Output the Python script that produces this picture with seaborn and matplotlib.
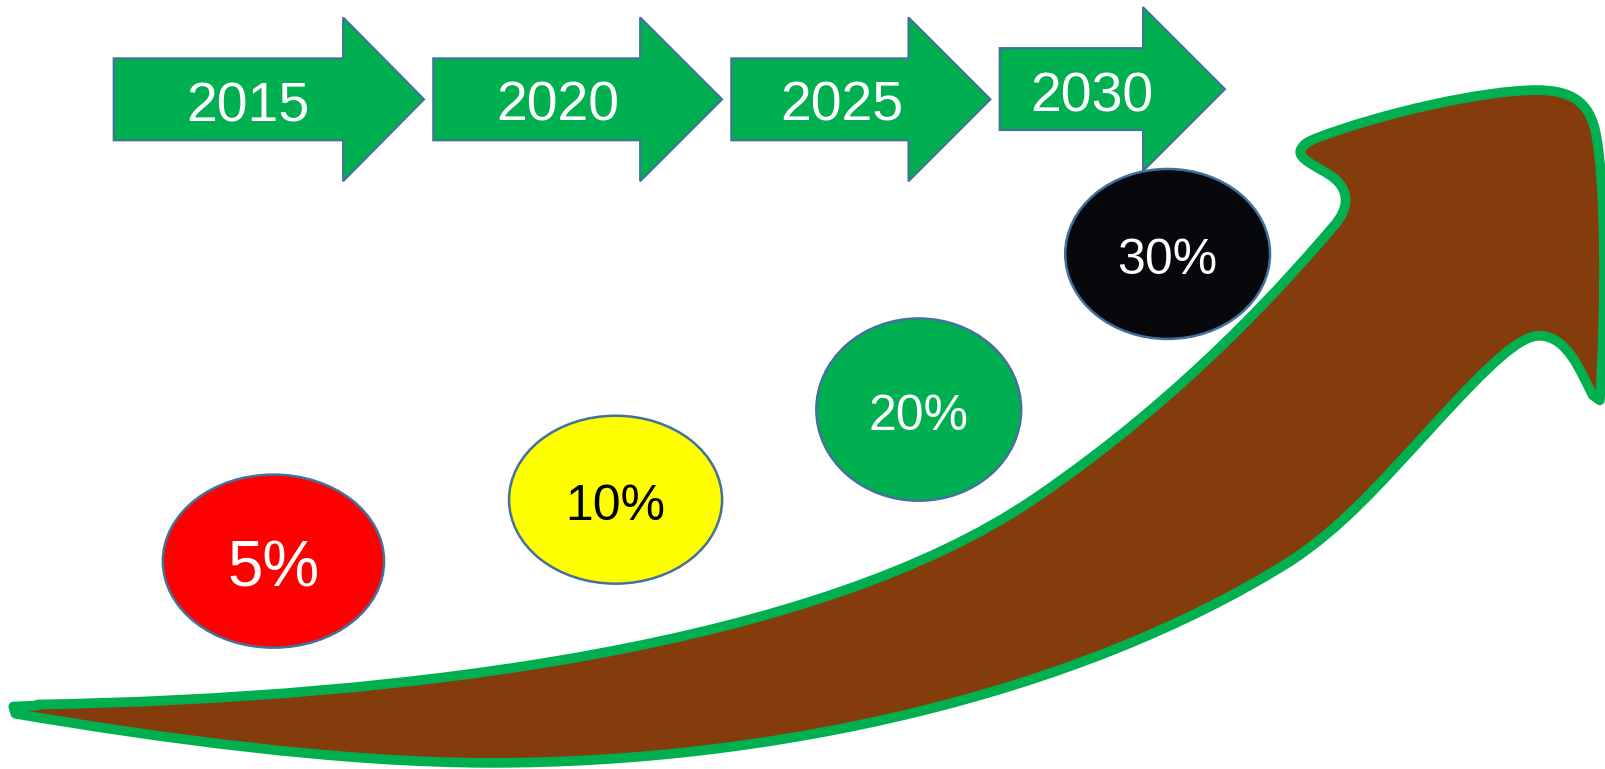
import numpy as np
import seaborn as sns
import matplotlib.pyplot as plt
from matplotlib.patches import Ellipse, Polygon, PathPatch
from matplotlib.path import Path

# what the picture says
years = ["2015", "2020", "2025", "2030"]
shares = [5, 10, 20, 30]
share_colors = ["#FF0000", "#FFFF00", "#00B050", "#07080C"]
share_text_colors = ["white", "black", "white", "white"]

# layout, in the pixel grid the picture was measured on (1568 x 751)
W, H = 1568, 751
arrow_left = [111, 423, 714, 976]
arrow_neck = [335, 625, 887, 1116]
arrow_tip = [414, 705, 967, 1196]
arrow_mid = [97, 97, 97, 87]
year_label_x = [242, 545, 822, 1066]
year_label_y = [99, 98, 98, 89]

bubble_x = [267, 601, 897, 1140]
bubble_y = [548, 488, 400, 248]
bubble_w = [216, 208, 200, 200]
bubble_h = [169, 164, 178, 166]
bubble_font = [46, 36, 36, 36]

GREEN = "#00B050"
BROWN = "#843C0C"
EDGE = "#41719C"

sns.set_theme(style="white")
plt.rcParams["font.family"] = ["Liberation Sans", "DejaVu Sans"]

fig = plt.figure(figsize=(16.06, 7.69), dpi=100)
ax = fig.add_axes([0, 0, 1, 1])
ax.set_xlim(0, W)
ax.set_ylim(H, 0)
ax.axis("off")


def label(x, y, s, size, color):
    # put the cap height centred on y
    ax.text(x, y + size / 1.024 / 2, s, fontsize=size, color=color,
            ha="center", va="baseline", zorder=5)


# big curved brown arrow
verts = [(37, 688)]
codes = [Path.MOVETO]


def curve(c1, c2, p):
    verts.extend([c1, c2, p])
    codes.extend([Path.CURVE4] * 3)


def line(p):
    verts.append(p)
    codes.append(Path.LINETO)


# upper side, tail to notch
curve((400, 682), (800, 630), (1010, 487))
curve((1160, 385), (1260, 270), (1302, 221))
curve((1318, 203), (1318, 185), (1300, 172))
curve((1285, 162), (1266, 155), (1270, 146))
curve((1273, 140), (1278, 138), (1285, 135))
# head
curve((1350, 110), (1450, 88), (1500, 88))
curve((1535, 88), (1552, 100), (1558, 130))
curve((1568, 180), (1568, 300), (1562, 391))
line((1555, 386))
curve((1542, 360), (1530, 330), (1505, 328))
curve((1485, 326), (1455, 355), (1400, 415))
# lower side back to the tail
curve((1345, 475), (1310, 515), (1260, 548))
curve((1050, 680), (750, 745), (480, 745))
curve((330, 745), (150, 720), (15, 697))
line((13, 690))
line((37, 689))
verts.append((37, 688))
codes.append(Path.CLOSEPOLY)

ax.add_patch(PathPatch(Path(verts, codes), facecolor=BROWN, edgecolor=GREEN,
                       lw=7, joinstyle="round", zorder=1))

# year arrows
for i, yr in enumerate(years):
    x0, xn, xt, ym = arrow_left[i], arrow_neck[i], arrow_tip[i], arrow_mid[i]
    pts = [(x0, ym - 40), (xn, ym - 40), (xn, ym - 80), (xt, ym),
           (xn, ym + 80), (xn, ym + 40), (x0, ym + 40)]
    ax.add_patch(Polygon(pts, closed=True, facecolor=GREEN, edgecolor=EDGE,
                         lw=1.5, zorder=2))
    label(year_label_x[i], year_label_y[i], yr, 40, "white")

# share bubbles
for i, v in enumerate(shares):
    ax.add_patch(Ellipse((bubble_x[i], bubble_y[i]), bubble_w[i], bubble_h[i],
                         facecolor=share_colors[i], edgecolor=EDGE, lw=1.8,
                         zorder=3))
    label(bubble_x[i], bubble_y[i] + 2, f"{v}%", bubble_font[i],
          share_text_colors[i])

fig.savefig("out.png", dpi=100, facecolor="white")
